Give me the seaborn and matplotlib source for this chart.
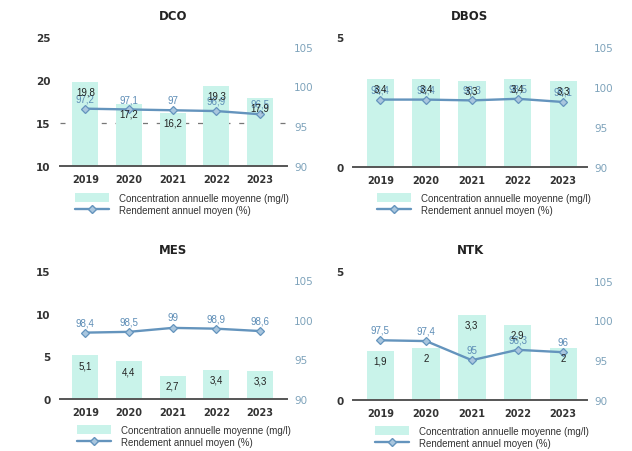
import numpy as np
import pandas as pd
import matplotlib
matplotlib.use("Agg")
import matplotlib.pyplot as plt
import seaborn as sns
from matplotlib.lines import Line2D
from matplotlib.patches import Patch

# ---------------- data ----------------
years = ["2019", "2020", "2021", "2022", "2023"]
titles = ["DCO", "DBOS", "MES", "NTK"]

dco_conc = [19.8, 17.2, 16.2, 19.3, 17.9]
dco_rend = [97.2, 97.1, 97.0, 96.9, 96.5]

dbos_conc = [3.4, 3.4, 3.3, 3.4, 3.3]
dbos_rend = [98.4, 98.4, 98.3, 98.5, 98.1]

mes_conc = [5.1, 4.4, 2.7, 3.4, 3.3]
mes_rend = [98.4, 98.5, 99.0, 98.9, 98.6]

ntk_conc = [1.9, 2.0, 3.3, 2.9, 2.0]
ntk_rend = [97.5, 97.4, 95.0, 96.3, 96.0]

dco_left_ticks = [10, 15, 20, 25]
dbos_left_ticks = [0, 5]
mes_left_ticks = [0, 5, 10, 15]
ntk_left_ticks = [0, 5]
right_ticks = [90, 95, 100, 105]

legend_labels = ["Concentration annuelle moyenne (mg/l)", "Rendement annuel moyen (%)"]

# ---------------- style ----------------
BAR = "#c9f3ea"
LINE = "#6494bd"
RLABEL = "#5d8db6"
RTICK = "#7ea3bb"
W, H = 632, 452

sns.set_theme(style="white")
plt.rcParams["font.family"] = ["DejaVu Sans"]

fig = plt.figure(figsize=(W / 100, H / 100), dpi=100)


def fmt(v):
    return f"{v:g}".replace(".", ",")


panels = [
    dict(title=titles[0], conc=dco_conc, rend=dco_rend, lt=dco_left_ticks,
         rect=(60, 38, 287, 167), xlim=(-0.58, 4.62), grid=[15], leg=(75, 194)),
    dict(title=titles[1], conc=dbos_conc, rend=dbos_rend, lt=dbos_left_ticks,
         rect=(353, 38, 587, 168), xlim=(-0.6, 4.52), grid=[], leg=(377, 194)),
    dict(title=titles[2], conc=mes_conc, rend=mes_rend, lt=mes_left_ticks,
         rect=(60, 272, 287, 400), xlim=(-0.58, 4.62), grid=[], leg=(77, 426)),
    dict(title=titles[3], conc=ntk_conc, rend=ntk_rend, lt=ntk_left_ticks,
         rect=(353, 272, 587, 401), xlim=(-0.6, 4.52), grid=[], leg=(375, 427)),
]

for p in panels:
    x0, y0, x1, y1 = p["rect"]
    ax = fig.add_axes([x0 / W, 1 - y1 / H, (x1 - x0) / W, (y1 - y0) / H])
    df = pd.DataFrame({"year": years, "conc": p["conc"]})
    sns.barplot(data=df, x="year", y="conc", ax=ax, color=BAR, width=0.6,
                saturation=1, edgecolor="none", zorder=2)
    ax.set_ylim(p["lt"][0], p["lt"][-1])
    ax.set_yticks(p["lt"])
    ax.set_xlim(*p["xlim"])
    ax.set_xlabel("")
    ax.set_ylabel("")
    for g in p["grid"]:
        ax.axhline(g, ls=(0, (4, 7)), color="#777777", lw=0.9, zorder=1)
    for s in ["top", "right", "left"]:
        ax.spines[s].set_visible(False)
    ax.spines["bottom"].set_color("#555555")
    ax.spines["bottom"].set_linewidth(1.4)
    ax.spines["bottom"].set_zorder(3)
    ax.tick_params(axis="x", length=2, color="#555555", pad=4)
    ax.tick_params(axis="y", length=0, pad=7, labelcolor="#333333", labelsize=7.5)
    for t in ax.get_xticklabels():
        t.set_fontweight("bold")
        t.set_fontsize(7)
        t.set_color("#333333")
    for t in ax.get_yticklabels():
        t.set_fontweight("bold")
    ax.set_title(p["title"], fontsize=8.5, fontweight="bold", pad=13, color="#222222")

    ax2 = ax.twinx()
    sns.lineplot(x=np.arange(len(years)), y=p["rend"], ax=ax2, color=LINE, lw=1.7,
                 marker="D", markersize=4, markerfacecolor="#a9c6de",
                 markeredgecolor=LINE, markeredgewidth=0.9, zorder=4)
    ax2.set_ylim(90, 106.2)
    ax2.set_yticks(right_ticks)
    ax2.set_ylabel("")
    ax2.set_xlim(*p["xlim"])
    for s in ["top", "right", "left", "bottom"]:
        ax2.spines[s].set_visible(False)
    ax2.tick_params(axis="y", length=0, pad=5, labelcolor=RTICK, labelsize=7.5)

    # labels
    for i, v in enumerate(p["rend"]):
        ax2.annotate(fmt(v), xy=(i, v), xycoords=ax2.transData, xytext=(0, 7.5),
                     textcoords="offset points", ha="center", va="center",
                     fontsize=7, color=RLABEL, family="Liberation Sans", zorder=6)
    for i, v in enumerate(p["conc"]):
        ax2.annotate(fmt(v), xy=(i, v), xycoords=ax.transData, xytext=(0, -7),
                     textcoords="offset points", ha="center", va="center",
                     fontsize=7, color="#222222", family="Liberation Sans", zorder=7)

    handles = [Patch(facecolor=BAR, edgecolor="none"),
               Line2D([], [], color=LINE, lw=1.7, marker="D", markersize=4,
                      markerfacecolor="#a9c6de", markeredgecolor=LINE)]
    lx, ly = p["leg"]
    leg = ax2.legend(handles, legend_labels, loc="upper left",
                     bbox_to_anchor=(lx / W, 1 - ly / H), bbox_transform=fig.transFigure,
                     frameon=False, prop={"family": "Liberation Sans", "size": 7},
                     handlelength=3.5, handleheight=1.1, handletextpad=1.0,
                     labelspacing=0.2, borderpad=0, borderaxespad=0)
    for t in leg.get_texts():
        t.set_color("#333333")

fig.savefig("out.png", dpi=100, facecolor="white")
